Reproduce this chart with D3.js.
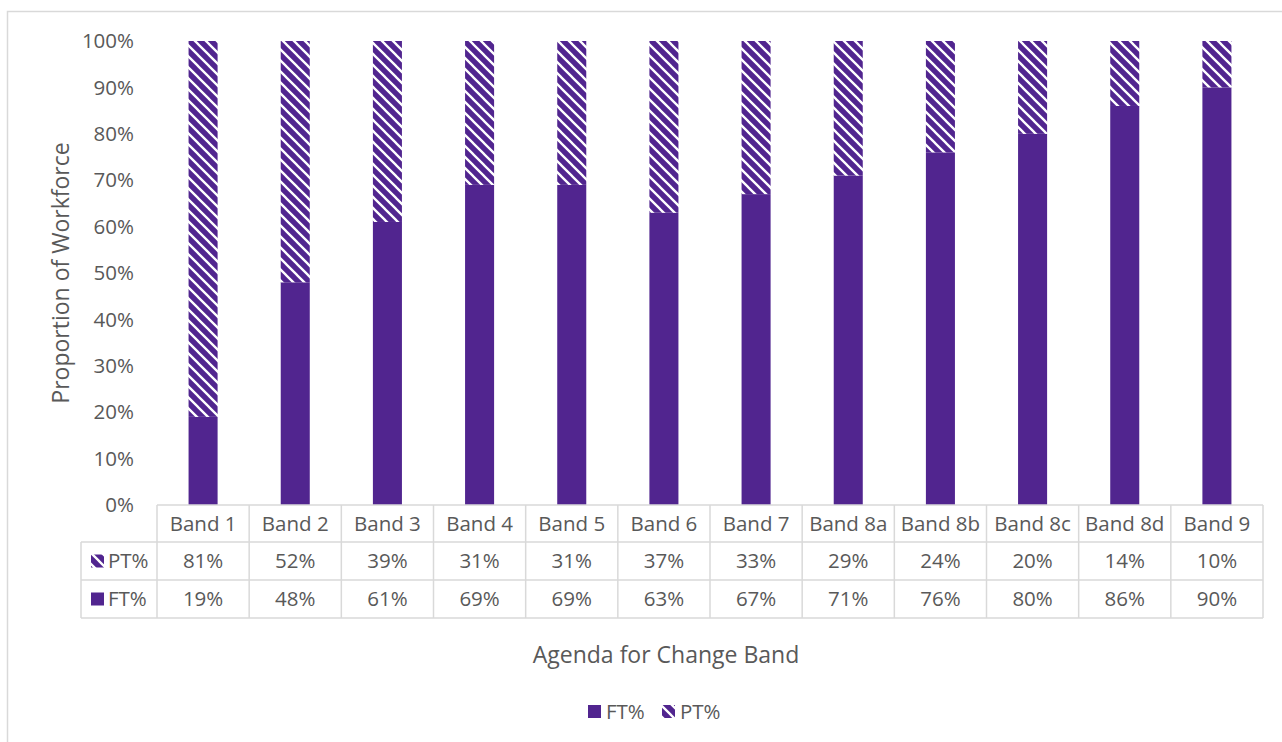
<!DOCTYPE html>
<html>
<head>
<meta charset="utf-8">
<script src="https://cdn.jsdelivr.net/npm/d3@7/dist/d3.min.js"></script>
<style>
  html, body { margin: 0; padding: 0; background: #fff; overflow: hidden; }
  text { font-family: "Open Sans", "Noto Sans", sans-serif; fill: #595959; }
</style>
</head>
<body>
<svg id="chart" width="1282" height="742"></svg>
<script>
// Agenda for Change bands and full-time / part-time shares (%)
const bands = ["Band 1", "Band 2", "Band 3", "Band 4", "Band 5", "Band 6", "Band 7", "Band 8a", "Band 8b", "Band 8c", "Band 8d", "Band 9"];
const ftPct = [19, 48, 61, 69, 69, 63, 67, 71, 76, 80, 86, 90];
const ptPct = [81, 52, 39, 31, 31, 37, 33, 29, 24, 20, 14, 10];
const yTicks = [0, 10, 20, 30, 40, 50, 60, 70, 80, 90, 100];

const purple = "#51258f";
const gridGrey = "#d9d9d9";
const fontSize = 20.5;
const titleSize = 23;

const svg = d3.select("#chart");

// Wide downward-diagonal hatch used for the part-time segments
const tile = 11;
const defs = svg.append("defs");
const pat = defs.append("pattern")
  .attr("id", "hatch")
  .attr("patternUnits", "userSpaceOnUse")
  .attr("width", tile).attr("height", tile);
pat.append("rect").attr("width", tile).attr("height", tile).attr("fill", purple);
pat.append("path")
  .attr("d", `M-3,-3 L${tile + 3},${tile + 3} M-3,${tile - 3} L3,${tile + 3} M${tile - 3},-3 L${tile + 3},3`)
  .attr("stroke", "#fff").attr("stroke-width", 2.3);

// Outer chart frame
svg.append("rect")
  .attr("x", 7.5).attr("y", 11.5)
  .attr("width", 1400).attr("height", 900)
  .attr("fill", "none").attr("stroke", gridGrey).attr("stroke-width", 1.5);

const plotLeft = 157, plotRight = 1263, plotTop = 41, plotBottom = 505;

const x = d3.scaleBand().domain(bands).range([plotLeft, plotRight])
  .paddingInner(0.685).paddingOuter(0.3425);
const xCell = d3.scaleBand().domain(bands).range([plotLeft, plotRight]).padding(0);
const y = d3.scaleLinear().domain([0, 100]).range([plotBottom, plotTop]);

// Y axis labels
svg.append("g").selectAll("text").data(yTicks).join("text")
  .attr("x", 134).attr("y", d => y(d))
  .attr("dy", "0.35em")
  .attr("text-anchor", "end")
  .style("font-size", fontSize + "px")
  .text(d => d + "%");

// Stacked bars: FT at the bottom, PT on top
const bars = svg.append("g");
bars.selectAll("rect.ft").data(bands).join("rect")
  .attr("class", "ft")
  .attr("x", d => x(d)).attr("width", x.bandwidth())
  .attr("y", (d, i) => y(ftPct[i]))
  .attr("height", (d, i) => y(0) - y(ftPct[i]))
  .attr("fill", purple);
bars.selectAll("rect.pt").data(bands).join("rect")
  .attr("class", "pt")
  .attr("x", d => x(d)).attr("width", x.bandwidth())
  .attr("y", (d, i) => y(ftPct[i] + ptPct[i]))
  .attr("height", (d, i) => y(ftPct[i]) - y(ftPct[i] + ptPct[i]))
  .attr("fill", "url(#hatch)");

// Data table under the plot
const rowTop = [505, 542, 580, 618];
const tableLeft = 81;
const tbl = svg.append("g").attr("stroke", gridGrey).attr("stroke-width", 1.5);
// horizontal rules
tbl.append("line").attr("x1", plotLeft).attr("x2", plotRight).attr("y1", rowTop[0]).attr("y2", rowTop[0]);
[1, 2, 3].forEach(r => {
  tbl.append("line").attr("x1", tableLeft).attr("x2", plotRight).attr("y1", rowTop[r]).attr("y2", rowTop[r]);
});
// vertical rules
tbl.append("line").attr("x1", tableLeft).attr("x2", tableLeft).attr("y1", rowTop[1]).attr("y2", rowTop[3]);
bands.forEach(b => {
  tbl.append("line").attr("x1", xCell(b)).attr("x2", xCell(b)).attr("y1", rowTop[0]).attr("y2", rowTop[3]);
});
tbl.append("line").attr("x1", plotRight).attr("x2", plotRight).attr("y1", rowTop[0]).attr("y2", rowTop[3]);

const rowMid = r => (rowTop[r] + rowTop[r + 1]) / 2;
const cells = svg.append("g").style("font-size", fontSize + "px").attr("text-anchor", "middle");
cells.selectAll("text.hdr").data(bands).join("text").attr("class", "hdr")
  .attr("x", d => xCell(d) + xCell.bandwidth() / 2).attr("y", rowMid(0)).attr("dy", "0.35em")
  .text(d => d);
cells.selectAll("text.pt").data(bands).join("text").attr("class", "pt")
  .attr("x", d => xCell(d) + xCell.bandwidth() / 2).attr("y", rowMid(1)).attr("dy", "0.35em")
  .text((d, i) => ptPct[i] + "%");
cells.selectAll("text.ft").data(bands).join("text").attr("class", "ft")
  .attr("x", d => xCell(d) + xCell.bandwidth() / 2).attr("y", rowMid(2)).attr("dy", "0.35em")
  .text((d, i) => ftPct[i] + "%");

// Legend keys inside the table
const rowKeys = [{ name: "PT%", fill: "url(#hatch)", r: 1 }, { name: "FT%", fill: purple, r: 2 }];
rowKeys.forEach(k => {
  svg.append("rect").attr("x", 91).attr("y", rowMid(k.r) - 6.5).attr("width", 13).attr("height", 13).attr("fill", k.fill);
  svg.append("text").attr("x", 108).attr("y", rowMid(k.r)).attr("dy", "0.35em")
    .style("font-size", fontSize + "px").text(k.name);
});

// Axis titles
svg.append("text")
  .attr("transform", `translate(61,${(plotTop + plotBottom) / 2}) rotate(-90)`)
  .attr("text-anchor", "middle").attr("dy", "0.35em")
  .style("font-size", titleSize + "px")
  .text("Proportion of Workforce");
svg.append("text")
  .attr("x", 666).attr("y", 655).attr("dy", "0.35em")
  .attr("text-anchor", "middle")
  .style("font-size", titleSize + "px")
  .text("Agenda for Change Band");

// Bottom legend
const legend = [{ name: "FT%", fill: purple, x: 588 }, { name: "PT%", fill: "url(#hatch)", x: 662 }];
legend.forEach(k => {
  svg.append("rect").attr("x", k.x).attr("y", 705).attr("width", 13).attr("height", 13).attr("fill", k.fill);
  svg.append("text").attr("x", k.x + 18).attr("y", 711.5).attr("dy", "0.35em")
    .style("font-size", fontSize + "px").text(k.name);
});
</script>
</body>
</html>
